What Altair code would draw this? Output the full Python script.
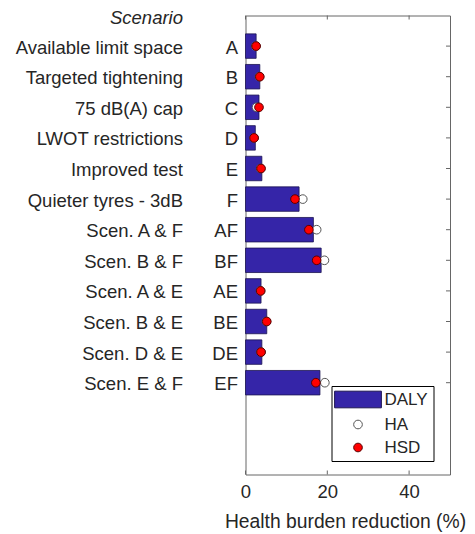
import altair as alt
import pandas as pd

codes = ['A', 'B', 'C', 'D', 'E', 'F', 'AF', 'BF', 'AE', 'BE', 'DE', 'EF']
names = ['Available limit space', 'Targeted tightening', '75 dB(A) cap',
         'LWOT restrictions', 'Improved test', 'Quieter tyres - 3dB',
         'Scen. A & F', 'Scen. B & F', 'Scen. A & E', 'Scen. B & E',
         'Scen. D & E', 'Scen. E & F']
daly = [2.6, 3.5, 3.3, 2.4, 4.0, 13.1, 16.6, 18.5, 3.8, 5.2, 4.0, 18.2]
ha = [2.5, 3.4, 2.7, 2.1, 3.7, 14.0, 17.4, 19.3, 3.7, 5.1, 3.8, 19.4]
hsd = [2.6, 3.5, 3.3, 2.1, 3.8, 12.1, 15.5, 17.4, 3.7, 5.2, 3.8, 17.2]
x_ticks = [0, 20, 40]
series = ['DALY', 'HA', 'HSD']
header = ['Scenario']

W, H = 204.5, 459
FONT = 'Liberation Sans'
FS = 18.5
TXT = '#262626'
AX = '#666666'
BAR = '#3525a8'

pos = list(range(1, len(codes) + 1))
bars_df = pd.DataFrame({'pos': pos, 'code': codes, 'name': names, 'daly': daly})
pts_df = pd.DataFrame({'pos': pos + pos, 'value': ha + hsd,
                       'series': ['HA'] * len(ha) + ['HSD'] * len(hsd)})
head_df = pd.DataFrame({'pos': [0], 'label': header})
xt_df = pd.DataFrame({'t': x_ticks})

xs = alt.Scale(domain=[0, 50], nice=False, zero=True)
ys = alt.Scale(domain=[0, 15], reverse=True, nice=False, zero=False)
x_axis = alt.Axis(values=x_ticks, title='Health burden reduction (%)',
                  ticks=False, domain=False, grid=False, labelFlush=False,
                  labelPadding=8, titlePadding=11, titleX=99.5)

rect_path = 'M-5.4,-1.92H5.4V1.92H-5.4Z'

bars = alt.Chart(bars_df).transform_calculate(
    y0='datum.pos - 0.4', y1='datum.pos + 0.4', x0='0'
).mark_rect(fill=BAR, stroke='#1c1450', strokeWidth=0.8).encode(
    x=alt.X('x0:Q', scale=xs, axis=x_axis),
    x2='daly:Q',
    y=alt.Y('y0:Q', scale=ys, axis=None),
    y2='y1:Q',
)

pts = alt.Chart(pts_df).mark_point(filled=True, size=75, strokeWidth=1, opacity=1).encode(
    x=alt.X('value:Q', scale=xs, axis=x_axis),
    y=alt.Y('pos:Q', scale=ys, axis=None),
    shape=alt.Shape('series:N', scale=alt.Scale(domain=series, range=[rect_path, 'circle', 'circle']),
                    legend=alt.Legend(title=None)),
    fill=alt.Fill('series:N', scale=alt.Scale(domain=series, range=[BAR, 'white', 'red']),
                  legend=alt.Legend(title=None)),
    stroke=alt.Stroke('series:N', scale=alt.Scale(domain=series, range=['#1c1450', '#555555', '#5a0000']),
                      legend=alt.Legend(title=None)),
)

names_txt = alt.Chart(bars_df).mark_text(align='right', baseline='middle', dy=1.5,
                                         font=FONT, fontSize=FS, color=TXT).encode(
    y=alt.Y('pos:Q', scale=ys, axis=None), x=alt.value(-62.5), text='name:N')
codes_txt = alt.Chart(bars_df).mark_text(align='right', baseline='middle', dy=1.5,
                                         font=FONT, fontSize=FS, color=TXT).encode(
    y=alt.Y('pos:Q', scale=ys, axis=None), x=alt.value(-7.5), text='code:N')
head_txt = alt.Chart(head_df).mark_text(align='right', baseline='middle', dy=2, fontStyle='italic',
                                        font=FONT, fontSize=FS, color=TXT).encode(
    y=alt.Y('pos:Q', scale=ys, axis=None), x=alt.value(-62.5), text='label:N')

tick_bot = alt.Chart(xt_df).mark_rule(color=AX, strokeWidth=1).encode(
    x=alt.X('t:Q', scale=xs, axis=x_axis), y=alt.value(H), y2=alt.value(H - 4))
tick_top = alt.Chart(xt_df).mark_rule(color=AX, strokeWidth=1).encode(
    x=alt.X('t:Q', scale=xs, axis=x_axis), y=alt.value(0), y2=alt.value(4))
tick_right = alt.Chart(bars_df).mark_rule(color=AX, strokeWidth=1).encode(
    y=alt.Y('pos:Q', scale=ys, axis=None), x=alt.value(W), x2=alt.value(W - 4))

chart = alt.layer(
    bars, pts, names_txt, codes_txt, head_txt, tick_bot, tick_top, tick_right
).properties(
    width=W, height=H,
    padding={'left': 237.5, 'top': 7.5, 'right': 17, 'bottom': 60},
    autosize='none',
).configure_view(
    stroke=AX, strokeWidth=1
).configure_axis(
    labelFont=FONT, labelFontSize=FS, labelColor=TXT,
    titleFont=FONT, titleFontSize=19.3, titleColor=TXT, titleFontWeight='normal',
).configure_legend(
    orient='none', legendX=86, legendY=370.5, padding=5,
    strokeColor='black', fillColor='white',
    labelFont=FONT, labelFontSize=17, labelColor=TXT,
    symbolSize=75, symbolStrokeWidth=1, symbolOffset=13, labelOffset=18,
    rowPadding=5,
)

chart.save('out.html', embed_options={'renderer': 'svg', 'actions': False})
